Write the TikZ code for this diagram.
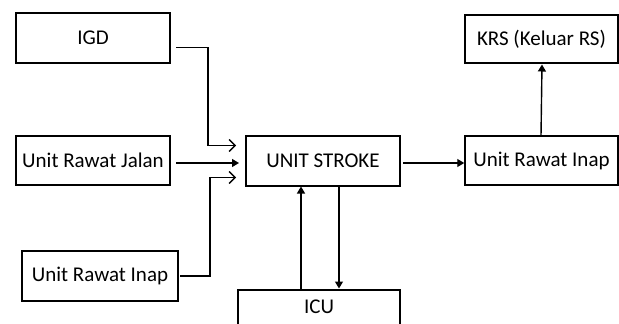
\documentclass[tikz,border=0pt]{standalone}
\usepackage{fontspec}
\setmainfont{Carlito}
\usetikzlibrary{arrows.meta}
\begin{document}
\begin{tikzpicture}[x=1pt,y=-1pt,
  box/.style={draw,line width=1.5pt,minimum width=#1,inner sep=0pt,font=\fontsize{21}{24}\selectfont},
  conn/.style={line width=1.4pt},
  openarr/.style={conn,-{Straight Barb[length=6pt,width=12pt,line width=1.3pt]}},
  fillarr/.style={conn,-{Triangle[length=7pt,width=8pt]}}]
\useasboundingbox (0,0) rectangle (619,324);
\begin{scope}
\clip (0,0) rectangle (619,324);
\node[box=154pt,minimum height=50pt] (igd) at (93,38) {IGD};
\node[box=154pt,minimum height=49pt] (jalan) at (93,160.5) {Unit Rawat Jalan};
\node[box=156pt,minimum height=50pt] (inapl) at (100,276) {Unit Rawat Inap};
\node[box=154pt,minimum height=50pt] (stroke) at (323,161) {UNIT STROKE};
\node[box=162pt,minimum height=70pt,anchor=north] (icu) at (319,289) {};
\node[font=\fontsize{21}{24}\selectfont] (icut) at (319,307) {ICU};
\node[box=153pt,minimum height=49pt] (inapr) at (541.5,160.5) {Unit Rawat Inap};
\node[box=153pt,minimum height=48pt] (krs) at (541.5,39) {KRS (Keluar RS)};
\end{scope}
\coordinate (a1) at (176,47.5);
\coordinate (a2) at (236,145.5);
\draw[openarr] (a1) -| (208,145.5) -- (a2);
\coordinate (b1) at (176,163);
\coordinate (b2) at (239,163);
\draw[fillarr] (b1) -- (b2);
\coordinate (c1) at (180,276);
\coordinate (c2) at (236,177.5);
\draw[openarr] (c1) -| (210,177.5) -- (c2);
\draw[fillarr] (301,289) -- (301,186.5);
\draw[fillarr] (339,186) -- (339,288.5);
\coordinate (d1) at (403,163);
\draw[fillarr] (d1) -- (inapr.west |- d1);
\coordinate (e1) at (541,136);
\coordinate (e2) at (542,64.5);
\draw[fillarr] (e1) -- (e2);
\end{tikzpicture}
\end{document}
